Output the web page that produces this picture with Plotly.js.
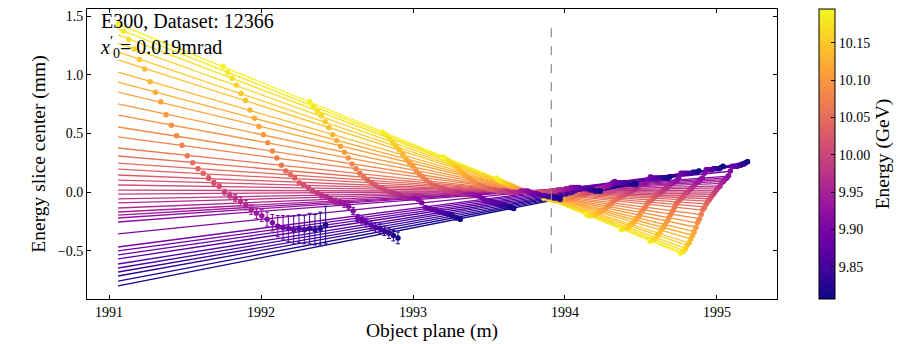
<!DOCTYPE html>
<html>
<head>
<meta charset="utf-8">
<script src="https://cdn.plot.ly/plotly-3.0.1.min.js"></script>
<style>html,body{margin:0;padding:0;background:#fff}#chart{width:910px;height:344px}</style>
</head>
<body>
<div id="chart"></div>
<script>
// Energy of each slice (GeV), from highest (yellow) to lowest (blue)
const energies=[10.190,10.180,10.171,10.161,10.151,10.142,10.132,10.122,10.112,10.103,10.093,10.083,10.074,10.064,10.054,10.045,10.035,10.025,10.015,10.006,9.996,9.986,9.977,9.967,9.957,9.948,9.938,9.928,9.918,9.909,9.899,9.889,9.880,9.870,9.860,9.851,9.841,9.831,9.821,9.812];
// Fitted line per slice: start point (common x) and end point (last object plane)
const lineStartX=1991.06;
const lineStartY=[1.432,1.390,1.339,1.270,1.194,1.126,1.023,0.938,0.853,0.751,0.657,0.555,0.470,0.376,0.308,0.248,0.197,0.146,0.103,0.061,0.018,-0.016,-0.058,-0.092,-0.135,-0.169,-0.195,-0.220,-0.254,-0.356,-0.467,-0.501,-0.535,-0.569,-0.612,-0.646,-0.680,-0.714,-0.757,-0.799];
const lineEndY=[-0.520,-0.512,-0.498,-0.478,-0.454,-0.433,-0.397,-0.367,-0.336,-0.299,-0.264,-0.225,-0.191,-0.153,-0.125,-0.099,-0.077,-0.056,-0.037,-0.018,0.001,0.017,0.037,0.054,0.075,0.092,0.107,0.121,0.136,0.178,0.216,0.219,0.221,0.224,0.231,0.234,0.237,0.241,0.249,0.257];
// Measured slice centres for each dataset (object plane x, centre y)
const xS1=[1991.06,1991.095,1991.13,1991.165,1991.2,1991.235,1991.27,1991.305,1991.34,1991.375,1991.41,1991.445,1991.48,1991.515,1991.55,1991.585,1991.62,1991.655,1991.69,1991.725,1991.76,1991.795,1991.83,1991.865,1991.9,1991.935,1991.97,1992.005,1992.04,1992.075,1992.11,1992.145,1992.18,1992.215,1992.25,1992.285,1992.32,1992.355,1992.39,1992.425];
const yS1=[1.43,1.37,1.30,1.22,1.13,1.05,0.94,0.85,0.77,0.66,0.57,0.48,0.40,0.31,0.25,0.20,0.16,0.12,0.08,0.05,0.00,-0.03,-0.05,-0.08,-0.11,-0.15,-0.18,-0.20,-0.23,-0.26,-0.29,-0.30,-0.31,-0.32,-0.31,-0.32,-0.31,-0.32,-0.31,-0.28];
const xS2=[1991.75,1991.78,1991.809,1991.839,1991.868,1991.898,1991.927,1991.957,1991.986,1992.016,1992.045,1992.075,1992.104,1992.134,1992.163,1992.193,1992.222,1992.252,1992.281,1992.311,1992.34,1992.37,1992.399,1992.429,1992.458,1992.488,1992.517,1992.547,1992.576,1992.606,1992.635,1992.665,1992.694,1992.724,1992.753,1992.783,1992.812,1992.842,1992.871,1992.901];
const yS2=[1.07,1.02,0.97,0.91,0.84,0.78,0.70,0.63,0.56,0.49,0.42,0.35,0.29,0.23,0.18,0.15,0.12,0.08,0.06,0.04,0.01,-0.01,-0.03,-0.04,-0.06,-0.08,-0.09,-0.10,-0.12,-0.16,-0.22,-0.24,-0.26,-0.28,-0.30,-0.31,-0.33,-0.35,-0.37,-0.39];
const xS3=[1992.32,1992.345,1992.371,1992.396,1992.422,1992.447,1992.472,1992.498,1992.523,1992.549,1992.574,1992.599,1992.625,1992.65,1992.676,1992.701,1992.726,1992.752,1992.777,1992.803,1992.828,1992.853,1992.879,1992.904,1992.93,1992.955,1992.98,1993.006,1993.031,1993.057,1993.082,1993.107,1993.133,1993.158,1993.184,1993.209,1993.234,1993.26,1993.285,1993.311];
const yS3=[0.77,0.73,0.69,0.65,0.60,0.55,0.49,0.44,0.39,0.34,0.29,0.24,0.20,0.16,0.13,0.10,0.08,0.06,0.04,0.03,0.01,0.00,-0.01,-0.02,-0.04,-0.05,-0.05,-0.05,-0.06,-0.09,-0.13,-0.14,-0.15,-0.16,-0.17,-0.18,-0.19,-0.20,-0.22,-0.23];
const xS4=[1992.8,1992.822,1992.844,1992.866,1992.888,1992.911,1992.933,1992.955,1992.977,1992.999,1993.021,1993.043,1993.065,1993.087,1993.109,1993.132,1993.154,1993.176,1993.198,1993.22,1993.242,1993.264,1993.286,1993.308,1993.33,1993.353,1993.375,1993.397,1993.419,1993.441,1993.463,1993.485,1993.507,1993.529,1993.551,1993.574,1993.596,1993.618,1993.64,1993.662];
const yS4=[0.51,0.49,0.46,0.42,0.39,0.36,0.32,0.28,0.25,0.22,0.18,0.15,0.13,0.10,0.08,0.06,0.05,0.04,0.03,0.02,0.01,0.00,0.00,-0.01,-0.02,-0.02,-0.02,-0.02,-0.03,-0.04,-0.06,-0.07,-0.08,-0.09,-0.10,-0.11,-0.11,-0.12,-0.13,-0.14];
const xS5=[1993.2,1993.22,1993.239,1993.259,1993.279,1993.299,1993.318,1993.338,1993.358,1993.377,1993.397,1993.417,1993.436,1993.456,1993.476,1993.496,1993.515,1993.535,1993.555,1993.574,1993.594,1993.614,1993.633,1993.653,1993.673,1993.693,1993.712,1993.732,1993.752,1993.771,1993.791,1993.811,1993.83,1993.85,1993.87,1993.89,1993.909,1993.929,1993.949,1993.968];
const yS5=[0.30,0.28,0.26,0.24,0.22,0.20,0.17,0.15,0.13,0.11,0.09,0.07,0.06,0.05,0.04,0.03,0.02,0.02,0.01,0.01,0.01,0.01,0.00,0.00,0.00,0.00,0.01,0.01,0.01,0.00,-0.01,-0.01,-0.02,-0.03,-0.03,-0.04,-0.04,-0.05,-0.05,-0.06];
const xS6=[1993.55,1993.568,1993.585,1993.603,1993.62,1993.638,1993.655,1993.673,1993.69,1993.708,1993.725,1993.743,1993.76,1993.778,1993.795,1993.813,1993.83,1993.848,1993.865,1993.883,1993.9,1993.918,1993.935,1993.953,1993.97,1993.988,1994.005,1994.023,1994.04,1994.058,1994.075,1994.093,1994.11,1994.128,1994.145,1994.163,1994.18,1994.198,1994.215,1994.233];
const yS6=[0.12,0.10,0.09,0.08,0.07,0.06,0.05,0.04,0.03,0.02,0.01,0.01,0.01,0.00,0.00,0.00,0.00,0.00,0.00,0.00,0.01,0.01,0.01,0.02,0.02,0.02,0.03,0.03,0.04,0.04,0.04,0.04,0.03,0.03,0.03,0.02,0.02,0.01,0.01,0.01];
const xS7=[1993.86,1993.876,1993.891,1993.907,1993.922,1993.938,1993.954,1993.969,1993.985,1994.0,1994.016,1994.032,1994.047,1994.063,1994.078,1994.094,1994.11,1994.125,1994.141,1994.156,1994.172,1994.188,1994.203,1994.219,1994.234,1994.25,1994.266,1994.281,1994.297,1994.312,1994.328,1994.344,1994.359,1994.375,1994.39,1994.406,1994.422,1994.437,1994.453,1994.468];
const yS7=[-0.05,-0.05,-0.06,-0.06,-0.07,-0.07,-0.07,-0.07,-0.07,-0.06,-0.06,-0.05,-0.05,-0.04,-0.03,-0.02,-0.02,-0.01,-0.01,0.00,0.01,0.01,0.02,0.03,0.03,0.04,0.05,0.05,0.06,0.08,0.09,0.08,0.08,0.08,0.08,0.07,0.07,0.07,0.07,0.07];
const xS8=[1994.14,1994.154,1994.168,1994.182,1994.196,1994.211,1994.225,1994.239,1994.253,1994.267,1994.281,1994.295,1994.309,1994.323,1994.337,1994.352,1994.366,1994.38,1994.394,1994.408,1994.422,1994.436,1994.45,1994.464,1994.478,1994.493,1994.507,1994.521,1994.535,1994.549,1994.563,1994.577,1994.591,1994.605,1994.619,1994.634,1994.648,1994.662,1994.676,1994.69];
const yS8=[-0.19,-0.20,-0.20,-0.19,-0.19,-0.18,-0.17,-0.16,-0.15,-0.14,-0.12,-0.11,-0.09,-0.07,-0.06,-0.05,-0.04,-0.03,-0.02,-0.01,0.00,0.01,0.02,0.03,0.05,0.06,0.07,0.07,0.08,0.11,0.13,0.12,0.12,0.12,0.12,0.12,0.12,0.12,0.12,0.13];
const xS9=[1994.37,1994.383,1994.396,1994.409,1994.422,1994.436,1994.449,1994.462,1994.475,1994.488,1994.501,1994.514,1994.527,1994.54,1994.553,1994.567,1994.58,1994.593,1994.606,1994.619,1994.632,1994.645,1994.658,1994.671,1994.684,1994.698,1994.711,1994.724,1994.737,1994.75,1994.763,1994.776,1994.789,1994.802,1994.815,1994.829,1994.842,1994.855,1994.868,1994.881];
const yS9=[-0.32,-0.31,-0.31,-0.30,-0.29,-0.27,-0.26,-0.24,-0.22,-0.20,-0.17,-0.15,-0.13,-0.10,-0.08,-0.07,-0.05,-0.04,-0.02,-0.01,0.00,0.01,0.03,0.04,0.06,0.07,0.08,0.09,0.10,0.13,0.16,0.16,0.16,0.16,0.16,0.16,0.17,0.17,0.17,0.18];
const xS10=[1994.56,1994.572,1994.585,1994.597,1994.609,1994.622,1994.634,1994.646,1994.658,1994.671,1994.683,1994.695,1994.708,1994.72,1994.732,1994.745,1994.757,1994.769,1994.781,1994.794,1994.806,1994.818,1994.831,1994.843,1994.855,1994.868,1994.88,1994.892,1994.904,1994.917,1994.929,1994.941,1994.954,1994.966,1994.978,1994.991,1995.003,1995.015,1995.027,1995.04];
const yS10=[-0.42,-0.41,-0.40,-0.39,-0.37,-0.35,-0.32,-0.30,-0.28,-0.25,-0.22,-0.19,-0.16,-0.13,-0.10,-0.08,-0.06,-0.05,-0.03,-0.01,0.00,0.02,0.03,0.05,0.07,0.08,0.09,0.11,0.12,0.16,0.19,0.19,0.19,0.19,0.20,0.20,0.20,0.20,0.21,0.22];
const xS11=[1994.76,1994.771,1994.783,1994.794,1994.805,1994.817,1994.828,1994.839,1994.85,1994.862,1994.873,1994.884,1994.896,1994.907,1994.918,1994.93,1994.941,1994.952,1994.963,1994.975,1994.986,1994.997,1995.009,1995.02,1995.031,1995.043,1995.054,1995.065,1995.076,1995.088,1995.099,1995.11,1995.122,1995.133,1995.144,1995.156,1995.167,1995.178,1995.189,1995.201];
const yS11=[-0.52,-0.51,-0.50,-0.48,-0.45,-0.43,-0.40,-0.37,-0.34,-0.30,-0.26,-0.23,-0.19,-0.15,-0.13,-0.10,-0.08,-0.06,-0.04,-0.02,0.00,0.02,0.04,0.05,0.08,0.09,0.11,0.12,0.14,0.18,0.22,0.22,0.22,0.22,0.23,0.23,0.24,0.24,0.25,0.26];
// Error bars (mm)
const errS1=[0.01,0.01,0.01,0.01,0.01,0.01,0.01,0.01,0.01,0.01,0.01,0.01,0.01,0.01,0.01,0.015,0.015,0.02,0.02,0.02,0.025,0.03,0.03,0.035,0.04,0.04,0.045,0.05,0.06,0.07,0.09,0.10,0.11,0.12,0.12,0.12,0.13,0.13,0.14,0.16];
const errS2=[0.01,0.01,0.01,0.01,0.01,0.01,0.01,0.01,0.01,0.01,0.01,0.01,0.01,0.01,0.01,0.01,0.01,0.01,0.01,0.01,0.015,0.015,0.02,0.02,0.02,0.025,0.025,0.03,0.03,0.03,0.03,0.03,0.035,0.035,0.04,0.04,0.04,0.045,0.045,0.05];
const errRest=[0.008,0.008,0.008,0.008,0.008,0.008,0.008,0.008,0.008,0.008,0.008,0.008,0.008,0.008,0.008,0.008,0.008,0.008,0.008,0.008,0.01,0.01,0.01,0.01,0.01,0.01,0.01,0.01,0.01,0.01,0.015,0.015,0.015,0.015,0.015,0.015,0.015,0.015,0.015,0.015];
// Axis / reference values
const xTicks=[1991,1992,1993,1994,1995];
const yTicks=[-0.5,0.0,0.5,1.0,1.5];
const cbTicks=[9.85,9.90,9.95,10.00,10.05,10.10,10.15];
const cMin=9.807, cMax=10.195;
const dashX=1993.91, dashY=[-0.52,1.40];

const FONT='Liberation Serif';
const plasma=[[0,'#0d0887'],[0.1111,'#46039f'],[0.2222,'#7201a8'],[0.3333,'#9c179e'],[0.4444,'#bd3786'],[0.5556,'#d8576b'],[0.6667,'#ed7953'],[0.7778,'#fb9f3a'],[0.8889,'#fdca26'],[1,'#f0f921']];
function hex2rgb(h){return [parseInt(h.substr(1,2),16),parseInt(h.substr(3,2),16),parseInt(h.substr(5,2),16)];}
function colorOf(e){
  let t=(e-cMin)/(cMax-cMin); t=Math.max(0,Math.min(1,t));
  for(let k=0;k<plasma.length-1;k++){
    const a=plasma[k],b=plasma[k+1];
    if(t<=b[0]){const f=(t-a[0])/(b[0]-a[0]);const ca=hex2rgb(a[1]),cb=hex2rgb(b[1]);
      return 'rgb('+ca.map((v,j)=>Math.round(v+(cb[j]-v)*f)).join(',')+')';}
  }
  return plasma[plasma.length-1][1];
}
const xs=[xS1,xS2,xS3,xS4,xS5,xS6,xS7,xS8,xS9,xS10,xS11];
const ys=[yS1,yS2,yS3,yS4,yS5,yS6,yS7,yS8,yS9,yS10,yS11];
const errs=[errS1,errS2,errRest,errRest,errRest,errRest,errRest,errRest,errRest,errRest,errRest];

const traces=[];
energies.forEach((e,i)=>{
  traces.push({type:'scatter',mode:'lines',x:[lineStartX,xS11[i]],y:[lineStartY[i],lineEndY[i]],
    line:{color:colorOf(e),width:1.3},hoverinfo:'skip',showlegend:false});
});
energies.forEach((e,i)=>{
  const c=colorOf(e);
  traces.push({type:'scatter',mode:'markers',x:xs.map(a=>a[i]),y:ys.map(a=>a[i]),
    error_y:{type:'data',array:errs.map(a=>a[i]),visible:true,color:c,thickness:1,width:2},
    marker:{color:c,size:5.5},showlegend:false});
});
traces.push({type:'scatter',mode:'markers',x:xS1,y:yS1,showlegend:false,hoverinfo:'skip',
  marker:{color:energies,colorscale:plasma,cmin:cMin,cmax:cMax,opacity:0,size:1,showscale:true,
    colorbar:{x:1.0609,xanchor:'left',xpad:0,y:0.5,yanchor:'middle',ypad:0,len:1,lenmode:'fraction',
      thickness:16,thicknessmode:'pixels',outlinewidth:1,outlinecolor:'black',
      tickvals:cbTicks,ticktext:cbTicks.map(v=>v.toFixed(2)),ticks:'inside',ticklen:4,tickcolor:'black',
      tickfont:{size:14,family:FONT,color:'black'},
      title:{text:'Energy (GeV)',side:'right',font:{size:19.5,family:FONT,color:'black'}}}}});

const axisBase={ticks:'inside',ticklen:4,tickcolor:'black',tickwidth:1,showline:true,mirror:'ticks',
  linecolor:'black',linewidth:1,showgrid:false,zeroline:false,tickfont:{size:14,family:FONT,color:'black'}};
const layout={width:910,height:344,margin:{l:87,r:133,t:9,b:45},paper_bgcolor:'white',plot_bgcolor:'white',
  font:{family:FONT,size:14,color:'black'},showlegend:false,
  xaxis:Object.assign({},axisBase,{range:[1990.855,1995.395],tickvals:xTicks,ticktext:xTicks.map(String),
    title:{text:'Object plane (m)',font:{size:19.5,family:FONT,color:'black'},standoff:2}}),
  yaxis:Object.assign({},axisBase,{range:[-0.91,1.56],tickvals:yTicks,tickformat:'.1f',
    title:{text:'Energy slice center (mm)',font:{size:19.5,family:FONT,color:'black'},standoff:6}}),
  shapes:[{type:'line',xref:'x',yref:'y',x0:dashX,x1:dashX,y0:dashY[0],y1:dashY[1],
    line:{color:'#8c8c8c',width:1.2,dash:'dash'}}],
  annotations:[{xref:'paper',yref:'paper',x:0.016,y:1.005,xanchor:'left',yanchor:'top',align:'left',showarrow:false,
    text:'E300, Dataset: 12366<br><i>x</i><sup>′</sup><sub>0</sub>= 0.019mrad',font:{size:20,family:FONT,color:'black'}}]
};
Plotly.newPlot('chart',traces,layout,{displayModeBar:false,staticPlot:true});
</script>
</body>
</html>
